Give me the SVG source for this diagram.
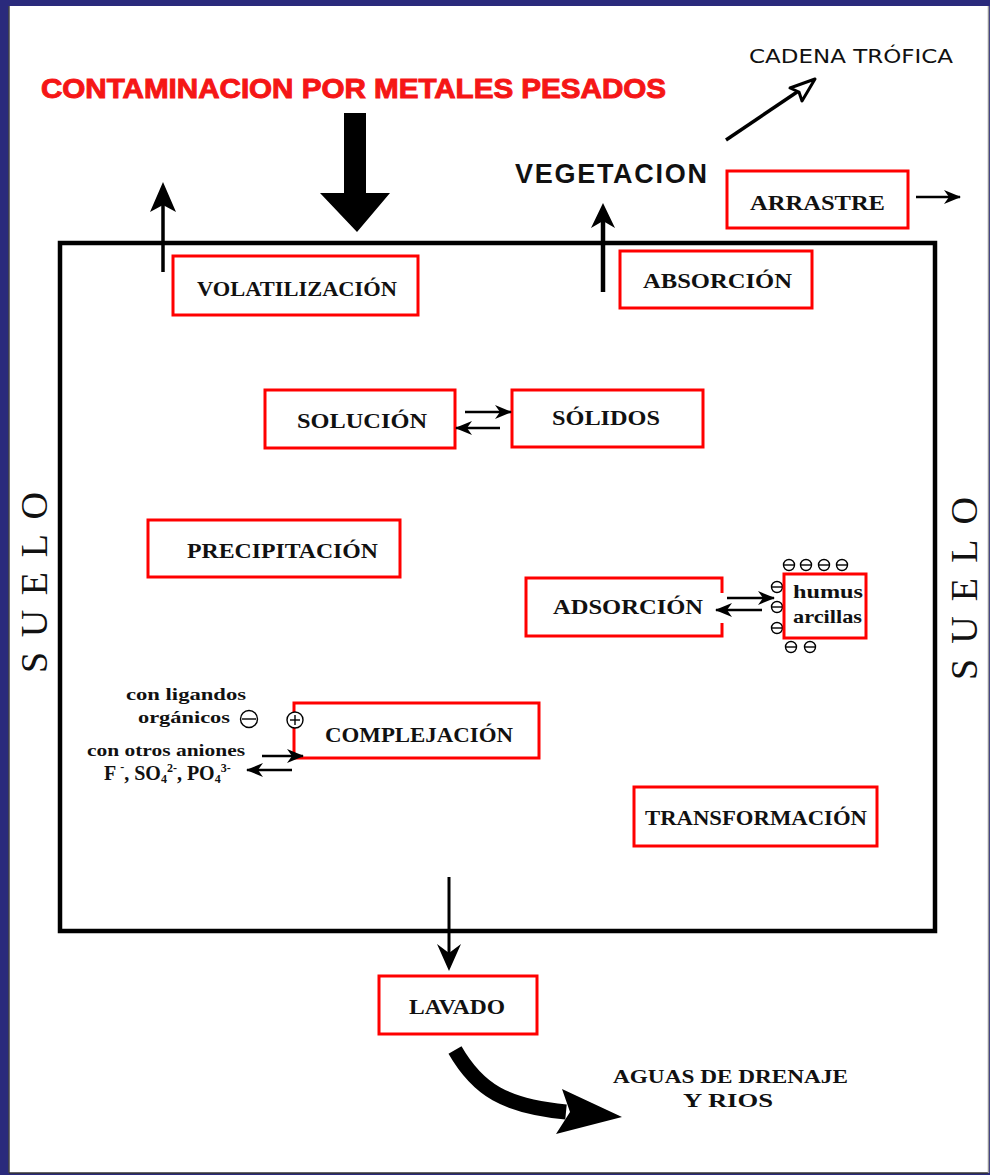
<svg xmlns="http://www.w3.org/2000/svg" xmlns:xlink="http://www.w3.org/1999/xlink" width="990" height="1175" viewBox="0 0 990 1175">
<style>
.box{fill:#fff;stroke:#f00;stroke-width:3}
.lbl{font-family:"Liberation Serif","Times New Roman",serif;font-weight:bold;font-size:21px;fill:#111;text-anchor:middle}
.sm{font-family:"Liberation Serif","Times New Roman",serif;font-weight:bold;font-size:17px;fill:#111}
.suelo{font-family:"Liberation Serif","Times New Roman",serif;font-size:38px;fill:#111;text-anchor:middle}
.ln{stroke:#000;fill:none}
.ion circle{fill:#fff;stroke:#000;stroke-width:1.4}
.ion line{stroke:#000;stroke-width:1.4}
</style>
<defs>
<marker id="ah" markerUnits="userSpaceOnUse" markerWidth="17" markerHeight="14" refX="16" refY="7" orient="auto">
<path d="M0,0 L17,7 L0,14 L5,7 Z" fill="#000"/>
</marker>
<g id="neg" class="ion"><circle r="5.5"/><line x1="-5.5" y1="0" x2="5.5" y2="0"/></g>
</defs>

<rect x="0" y="0" width="990" height="1175" fill="#2a2a7c"/>
<rect x="9" y="6" width="979" height="1167" fill="#fff"/>
<line x1="9" y1="6" x2="9" y2="1173" stroke="#444" stroke-width="1.5"/>
<line x1="9" y1="1173" x2="988" y2="1173" stroke="#333" stroke-width="1.5"/>
<line x1="988.5" y1="6" x2="988.5" y2="1173" stroke="#999" stroke-width="1.5"/>

<g id="soil-frame">
<rect x="60" y="243" width="875" height="688" fill="none" stroke="#000" stroke-width="4.5"/>
<text class="suelo" transform="translate(47,582.5) rotate(-90)" x="0" y="0" textLength="181" lengthAdjust="spacing">SUELO</text>
<text class="suelo" transform="translate(977,588.5) rotate(-90)" x="0" y="0" textLength="183" lengthAdjust="spacing">SUELO</text>
</g>

<g id="title">
<text x="353.5" y="98" font-family="'Liberation Sans',Arial,sans-serif" font-weight="bold" font-size="28" fill="#f51616" stroke="#f51616" stroke-width="1" text-anchor="middle" textLength="625" lengthAdjust="spacingAndGlyphs">CONTAMINACION POR METALES PESADOS</text>
</g>

<g id="vegetacion">
<text x="611" y="183" font-family="'Liberation Sans',Arial,sans-serif" font-weight="bold" font-size="27" fill="#111" text-anchor="middle" textLength="192" lengthAdjust="spacing">VEGETACION</text>
</g>

<g id="cadena-trofica">
<text x="851" y="63" font-family="'DejaVu Sans',sans-serif" font-size="19" fill="#111" text-anchor="middle" textLength="204" lengthAdjust="spacingAndGlyphs">CADENA TRÓFICA</text>
</g>

<g id="volatilizacion">
<rect class="box" x="173" y="256" width="245" height="59"/>
<text class="lbl" x="297" y="296" textLength="200" lengthAdjust="spacingAndGlyphs">VOLATILIZACIÓN</text>
</g>

<g id="absorcion">
<rect class="box" x="620" y="251" width="192" height="57"/>
<text class="lbl" x="717.5" y="288" textLength="149" lengthAdjust="spacingAndGlyphs">ABSORCIÓN</text>
</g>

<g id="arrastre">
<rect class="box" x="727" y="171" width="181" height="57"/>
<text class="lbl" x="817.5" y="210" textLength="135" lengthAdjust="spacingAndGlyphs">ARRASTRE</text>
</g>

<g id="solucion">
<rect class="box" x="265" y="390" width="190" height="58"/>
<text class="lbl" x="362" y="428" textLength="130" lengthAdjust="spacingAndGlyphs">SOLUCIÓN</text>
</g>

<g id="solidos">
<rect class="box" x="512" y="390" width="191" height="57"/>
<text class="lbl" x="606" y="425" textLength="108" lengthAdjust="spacingAndGlyphs">SÓLIDOS</text>
</g>

<g id="precipitacion">
<rect class="box" x="148" y="520" width="252" height="57"/>
<text class="lbl" x="282.5" y="558" textLength="191" lengthAdjust="spacingAndGlyphs">PRECIPITACIÓN</text>
</g>

<g id="adsorcion">
<path d="M722,593 V578 H526 V636 H722 V623" fill="#fff" stroke="#f00" stroke-width="3"/>
<text class="lbl" x="628" y="614" textLength="150" lengthAdjust="spacingAndGlyphs">ADSORCIÓN</text>
</g>

<g id="humus-arcillas">
<use xlink:href="#neg" x="789" y="565"/>
<use xlink:href="#neg" x="806" y="565"/>
<use xlink:href="#neg" x="824" y="565"/>
<use xlink:href="#neg" x="842" y="565"/>
<use xlink:href="#neg" x="777" y="587"/>
<use xlink:href="#neg" x="777" y="607"/>
<use xlink:href="#neg" x="777" y="628"/>
<use xlink:href="#neg" x="791" y="647"/>
<use xlink:href="#neg" x="810" y="647"/>
<rect class="box" x="784" y="574" width="82" height="64"/>
<text class="sm" x="828" y="598" text-anchor="middle" style="font-size:19px" textLength="70" lengthAdjust="spacingAndGlyphs">humus</text>
<text class="sm" x="827.5" y="623" text-anchor="middle" style="font-size:19px" textLength="69" lengthAdjust="spacingAndGlyphs">arcillas</text>
</g>

<g id="complejacion">
<rect class="box" x="294" y="703" width="245" height="55"/>
<text class="lbl" x="419" y="742" textLength="188" lengthAdjust="spacingAndGlyphs">COMPLEJACIÓN</text>
<g class="ion"><circle cx="295" cy="720" r="8"/><line x1="290" y1="720" x2="300" y2="720"/><line x1="295" y1="715" x2="295" y2="725"/></g>
</g>

<g id="ligandos">
<text class="sm" x="186" y="700" text-anchor="middle" textLength="120" lengthAdjust="spacingAndGlyphs">con ligandos</text>
<text class="sm" x="184" y="723" text-anchor="middle" textLength="92" lengthAdjust="spacingAndGlyphs">orgánicos</text>
<g class="ion"><circle cx="249" cy="719" r="8.5"/><line x1="242" y1="719" x2="256" y2="719"/></g>
</g>

<g id="aniones">
<text class="sm" x="166" y="756" text-anchor="middle" style="font-size:16px" textLength="158" lengthAdjust="spacingAndGlyphs">con otros aniones</text>
<text class="sm" x="104" y="780" style="font-size:20px">F<tspan style="font-size:12px" dy="-9" dx="4">-</tspan><tspan dy="9">, SO</tspan><tspan style="font-size:12px" dy="3">4</tspan><tspan style="font-size:12px" dy="-11">2-</tspan><tspan dy="8">, PO</tspan><tspan style="font-size:12px" dy="3">4</tspan><tspan style="font-size:12px" dy="-11">3-</tspan></text>
</g>

<g id="transformacion">
<rect class="box" x="634" y="787" width="243" height="59"/>
<text class="lbl" x="756" y="825" textLength="222" lengthAdjust="spacingAndGlyphs">TRANSFORMACIÓN</text>
</g>

<g id="lavado">
<rect class="box" x="379" y="976" width="158" height="58"/>
<text class="lbl" x="457" y="1014" textLength="96" lengthAdjust="spacingAndGlyphs">LAVADO</text>
</g>

<g id="aguas">
<text class="lbl" x="730.5" y="1083" style="font-size:19px" textLength="235" lengthAdjust="spacingAndGlyphs">AGUAS DE DRENAJE</text>
<text class="lbl" x="728" y="1107" style="font-size:19px" textLength="90" lengthAdjust="spacingAndGlyphs">Y RIOS</text>
</g>

<g id="connectors">
<path d="M344,113 H366 V193 H390 L357,232 L320,193 H344 Z" fill="#000"/>
<line class="ln" x1="163" y1="272" x2="163" y2="190" stroke-width="3.5"/>
<path d="M163,182 L176,212 L163,205 L150,212 Z" fill="#000"/>
<line class="ln" x1="603" y1="292" x2="603" y2="212" stroke-width="4.5"/>
<path d="M603,203 L615,228 L603,221 L591,228 Z" fill="#000"/>
<line class="ln" x1="726" y1="140" x2="806" y2="86" stroke-width="3.5"/>
<path d="M815,79 L802,101 L799,92 L790,88 Z" fill="#fff" stroke="#000" stroke-width="3" stroke-linejoin="round"/>
<line class="ln" x1="916" y1="197" x2="960" y2="197" stroke-width="2.5" marker-end="url(#ah)"/>
<line class="ln" x1="465" y1="412" x2="511" y2="412" stroke-width="2.5" marker-end="url(#ah)"/>
<line class="ln" x1="500" y1="428" x2="456" y2="428" stroke-width="2.5" marker-end="url(#ah)"/>
<line class="ln" x1="727" y1="598" x2="774" y2="598" stroke-width="2.5" marker-end="url(#ah)"/>
<line class="ln" x1="762" y1="610" x2="716" y2="610" stroke-width="2.5" marker-end="url(#ah)"/>
<line class="ln" x1="262" y1="756" x2="303" y2="756" stroke-width="2.5" marker-end="url(#ah)"/>
<line class="ln" x1="292" y1="770" x2="247" y2="770" stroke-width="2.5" marker-end="url(#ah)"/>
<line class="ln" x1="449" y1="877" x2="449" y2="955" stroke-width="3"/>
<path d="M449,971 L461,944 L449,953 L437,944 Z" fill="#000"/>
<path class="ln" d="M455,1050 C478,1090 505,1106 566,1112" stroke-width="15"/>
<path d="M622,1117 L562,1089 L570,1112 L556,1134 Z" fill="#000"/>
</g>
</svg>
